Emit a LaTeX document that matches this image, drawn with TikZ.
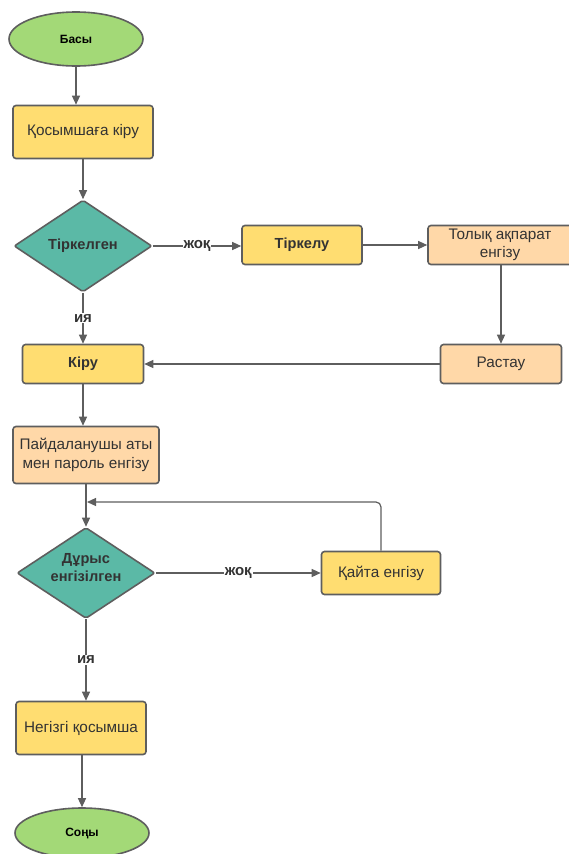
\documentclass[tikz,border=0pt]{standalone}
\usepackage{fontspec}
\setmainfont{Liberation Sans}
\usetikzlibrary{shapes.geometric,arrows.meta}
\definecolor{cgreen}{HTML}{A3D977}
\definecolor{cyellow}{HTML}{FFDD71}
\definecolor{cpeach}{HTML}{FFD8A8}
\definecolor{cteal}{HTML}{5BB9A6}
\definecolor{cline}{HTML}{5E5E5E}
\definecolor{ctext}{HTML}{333333}
\tikzset{
  base/.style={draw=cline, line width=1.6pt, inner sep=2pt, align=center, text=ctext},
  term/.style={base, ellipse, fill=cgreen, font=\bfseries\fontsize{12}{14}\selectfont, text=black},
  ybox/.style={base, rectangle, rounded corners=3pt, fill=cyellow, font=\fontsize{15.3}{18.5}\selectfont},
  pbox/.style={base, rectangle, rounded corners=3pt, fill=cpeach, font=\fontsize{15.3}{18.5}\selectfont},
  boldtext/.style={font=\bfseries\fontsize{14.6}{18.5}\selectfont},
  dec/.style={base, diamond, fill=cteal, rounded corners=2pt, boldtext, inner sep=0pt},
  arr/.style={draw=cline, line width=1.2pt, -{Triangle[length=9pt,width=8pt]}},
  lbl/.style={fill=white, inner sep=1pt, text=ctext, font=\bfseries\fontsize{15}{17}\selectfont},
}
\begin{document}
\begin{tikzpicture}[x=1pt,y=-1pt]
\useasboundingbox (0,0) rectangle (568,854);
\node[term, minimum width=134, minimum height=54] (start) at (76,39) {Басы};
\node[ybox, minimum width=140, minimum height=53] (q) at (83,132) {Қосымшаға кіру};
\node[dec, minimum width=138, minimum height=92] (d1) at (83,246) {Тіркелген};
\node[ybox, minimum width=120, minimum height=39, boldtext] (reg) at (302,245) {Тіркелу};
\node[pbox, minimum width=144, minimum height=39] (full) at (500,245) {Толық ақпарат\\[-1pt]енгізу};
\node[pbox, minimum width=121, minimum height=39] (rast) at (501,364) {Растау};
\node[ybox, minimum width=121, minimum height=39, boldtext] (kiru) at (83,364) {Кіру};
\node[pbox, minimum width=146, minimum height=57] (pw) at (86,455) {Пайдаланушы аты\\мен пароль енгізу};
\node[dec, minimum width=138, minimum height=91] (d2) at (86,573) {\raisebox{0.8pt}[0pt][0pt]{\begin{tabular}{@{}c@{}}Дұрыс\\енгізілген\end{tabular}}};
\node[ybox, minimum width=119, minimum height=43] (retry) at (381,573) {Қайта енгізу};
\node[ybox, minimum width=130, minimum height=53] (main) at (81,728) {Негізгі қосымша};
\node[term, minimum width=134, minimum height=50] (end) at (82,833) {Соңы};
\coordinate (loop) at (87,502);

\draw[arr] (start) -- (start.south |- q.north);
\draw[arr] (q.south -| d1.north) -- (d1.north);
\draw[arr] (d1.east) -- node[lbl]{жоқ} (d1.east -| reg.west);
\draw[arr] (reg) -- (full);
\draw[arr] (full.south -| rast.north) -- (rast.north);
\draw[arr] (rast) -- (kiru);
\draw[arr] (d1.south) -- node[lbl]{ия} (kiru.north);
\draw[arr] (kiru.south) -- (kiru.south |- pw.north);
\draw[arr] (pw.south) -- (d2.north);
\draw[arr] (d2.east) -- node[lbl]{жоқ} (d2.east -| retry.west);
\draw[arr, rounded corners=5pt] (retry.north) |- (loop);
\draw[arr] (d2.south) -- node[lbl]{ия} (d2.south |- main.north);
\draw[arr] (main.south -| end.north) -- (end.north);
\end{tikzpicture}
\end{document}
